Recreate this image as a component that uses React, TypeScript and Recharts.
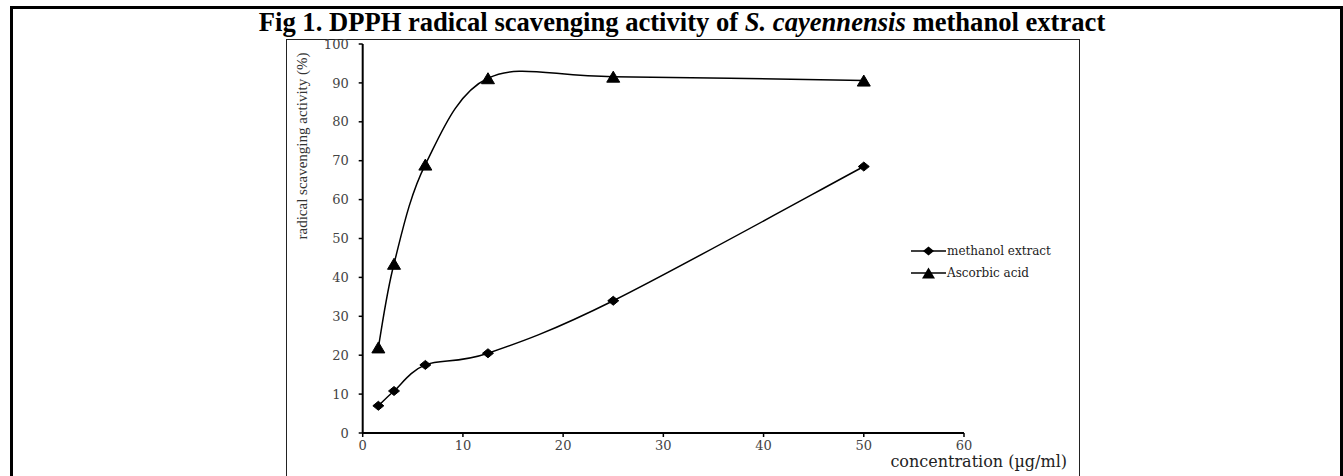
import React from "react";
import { LineChart, Line, XAxis, YAxis } from "recharts";

const concentrations = [1.5625, 3.125, 6.25, 12.5, 25, 50];
const methanolValues = [7, 10.8, 17.5, 20.5, 34, 68.5];
const ascorbicValues = [22, 43.5, 69, 91.2, 91.6, 90.6];
const xTicks = [0, 10, 20, 30, 40, 50, 60];
const yTicks = [0, 10, 20, 30, 40, 50, 60, 70, 80, 90, 100];
const seriesNames = ["methanol extract", "Ascorbic acid"];

const methanolData = concentrations.map((x, i) => ({ x, y: methanolValues[i] }));
const ascorbicData = concentrations.map((x, i) => ({ x, y: ascorbicValues[i] }));

// Excel-like smoothed line (Catmull-Rom style bezier)
const excelCurve = (context: any) => {
  let pts: number[][] = [];
  return {
    areaStart() {},
    areaEnd() {},
    lineStart() {
      pts = [];
    },
    point(x: number, y: number) {
      pts.push([+x, +y]);
    },
    lineEnd() {
      if (!pts.length) return;
      context.moveTo(pts[0][0], pts[0][1]);
      const t = 1 / 6;
      for (let i = 0; i < pts.length - 1; i++) {
        const p0 = pts[i - 1] || pts[i];
        const p1 = pts[i];
        const p2 = pts[i + 1];
        const p3 = pts[i + 2] || p2;
        const c1x = p1[0] + (p2[0] - p0[0]) * t;
        const c1y = p1[1] + (p2[1] - p0[1]) * t;
        const c2x = p2[0] - (p3[0] - p1[0]) * t;
        const c2y = p2[1] - (p3[1] - p1[1]) * t;
        context.bezierCurveTo(c1x, c1y, c2x, c2y, p2[0], p2[1]);
      }
    },
  };
};

const Diamond = (props: any) => {
  const { cx, cy, index } = props;
  if (cx == null || cy == null) return <g key={`d${index}`} />;
  return (
    <path
      key={`d${index}`}
      d={`M${cx},${cy - 4.5}L${cx + 5.5},${cy}L${cx},${cy + 4.5}L${cx - 5.5},${cy}Z`}
      fill="#000"
      stroke="#000"
    />
  );
};

const Triangle = (props: any) => {
  const { cx, cy, index } = props;
  if (cx == null || cy == null) return <g key={`t${index}`} />;
  return (
    <path
      key={`t${index}`}
      d={`M${cx},${cy - 5.5}L${cx + 6.5},${cy + 5.5}L${cx - 6.5},${cy + 5.5}Z`}
      fill="#000"
      stroke="#000"
    />
  );
};

const tickStyle = { fill: "#444", fontSize: 13, fontFamily: "DejaVu Serif" };

export default function App() {
  return (
    <div
      style={{
        position: "absolute",
        left: 0,
        top: 0,
        width: 1343,
        height: 476,
        overflow: "hidden",
        background: "#fff",
      }}
    >
      {/* outer table border */}
      <div
        style={{
          position: "absolute",
          left: 10,
          top: 6,
          width: 1343 - 10 - 6,
          height: 500,
          borderLeft: "3px solid #000",
          borderTop: "3px solid #000",
          borderRight: "3px solid #000",
        }}
      />
      {/* inner figure box */}
      <div
        style={{
          position: "absolute",
          left: 286,
          top: 39,
          width: 1079 - 286 - 1,
          height: 480,
          borderLeft: "1.5px solid #222",
          borderTop: "1.5px solid #222",
          borderRight: "1.5px solid #222",
        }}
      />
      {/* title */}
      <div
        style={{
          position: "absolute",
          left: 0,
          width: 1364,
          top: 7,
          textAlign: "center",
          fontFamily: "Liberation Serif",
          fontWeight: "bold",
          fontSize: 26.6,
          lineHeight: "31px",
          color: "#000",
          whiteSpace: "nowrap",
        }}
      >
        Fig 1. DPPH radical scavenging activity of <i>S. cayennensis</i> methanol extract
      </div>

      <div style={{ position: "absolute", left: 0, top: 0 }}>
        <LineChart
          width={1343}
          height={476}
          margin={{ top: 44, right: 379, bottom: 13, left: 302.7 }}
        >
          <XAxis
            type="number"
            dataKey="x"
            domain={[0, 60]}
            ticks={xTicks}
            allowDataOverflow
            height={30}
            axisLine={{ stroke: "#000", strokeWidth: 2 }}
            tickLine={{ stroke: "#000", strokeWidth: 1.5 }}
            tickSize={4}
            tickMargin={4}
            tick={tickStyle}
          />
          <YAxis
            type="number"
            dataKey="y"
            domain={[0, 100]}
            ticks={yTicks}
            width={60}
            axisLine={{ stroke: "#000", strokeWidth: 2 }}
            tickLine={{ stroke: "#000", strokeWidth: 1.5 }}
            tickSize={4}
            tickMargin={10}
            tick={tickStyle}
          />
          <Line
            data={methanolData}
            dataKey="y"
            name={seriesNames[0]}
            type={excelCurve as any}
            stroke="#000"
            strokeWidth={1.5}
            dot={Diamond}
            activeDot={false}
            isAnimationActive={false}
          />
          <Line
            data={ascorbicData}
            dataKey="y"
            name={seriesNames[1]}
            type={excelCurve as any}
            stroke="#000"
            strokeWidth={1.5}
            dot={Triangle}
            activeDot={false}
            isAnimationActive={false}
          />
        </LineChart>
      </div>

      {/* y axis title */}
      <div
        style={{
          position: "absolute",
          left: 302,
          top: 146,
          transform: "translate(-50%, -50%) rotate(-90deg)",
          fontFamily: "Liberation Serif",
          fontSize: 15,
          color: "#333",
          whiteSpace: "nowrap",
          lineHeight: "16px",
        }}
      >
        radical scavenging activity (%)
      </div>
      {/* x axis title */}
      <div
        style={{
          position: "absolute",
          right: 1343 - 1067,
          top: 454,
          fontFamily: "DejaVu Serif",
          fontSize: 16,
          color: "#222",
          whiteSpace: "nowrap",
          lineHeight: "16px",
        }}
      >
        concentration (µg/ml)
      </div>
      {/* legend */}
      <div style={{ position: "absolute", left: 911, top: 240 }}>
        {seriesNames.map((name, i) => (
          <div
            key={name}
            style={{
              display: "flex",
              alignItems: "center",
              height: 22,
              fontFamily: "DejaVu Serif",
              fontSize: 12,
              color: "#222",
              whiteSpace: "nowrap",
            }}
          >
            <svg width={35} height={14} style={{ display: "block" }}>
              <line x1={0} y1={7} x2={35} y2={7} stroke="#000" strokeWidth={1.5} />
              {i === 0 ? (
                <path d="M17.5,2.5L23,7L17.5,11.5L12,7Z" fill="#000" />
              ) : (
                <path d="M17.5,1.5L24,12.5L11,12.5Z" fill="#000" />
              )}
            </svg>
            <span style={{ marginLeft: 1 }}>{name}</span>
          </div>
        ))}
      </div>
    </div>
  );
}
